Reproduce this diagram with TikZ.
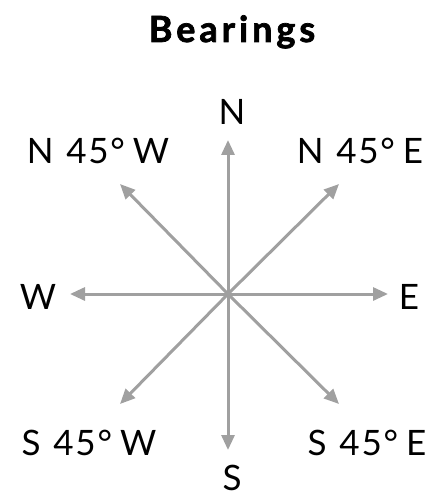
\documentclass[tikz,border=0pt]{standalone}
\usepackage{fontspec}
\setmainfont{Lato}[LetterSpace=5]
\usetikzlibrary{arrows.meta}
\definecolor{arrowgray}{RGB}{160,160,160}
\tikzset{
  px/.style={x=1pt,y=-1pt},
  lbl/.style={font=\fontsize{35}{35}\selectfont, inner sep=0pt, text=black, anchor=base},
  ttl/.style={font=\bfseries\addfontfeature{LetterSpace=11,FakeBold=2}\fontsize{36}{36}\selectfont, inner sep=0pt, text=black, anchor=base},
  bear/.style={draw=arrowgray, line width=3pt, -{Triangle[length=15pt,width=13pt]}}
}
\begin{document}
\begin{tikzpicture}[px]
\useasboundingbox (0,0) rectangle (430,497);
\node[ttl] (title) at (232,42) {Bearings};
\coordinate (c) at (228,294);
\coordinate (tn) at (228,140);
\coordinate (ts) at (228,450);
\coordinate (tw) at (70,294);
\coordinate (te) at (388,294);
\coordinate (tnw) at (120,184);
\coordinate (tne) at (339,184);
\coordinate (tsw) at (120,404);
\coordinate (tse) at (339,404);
\foreach \t in {tn,ts,tw,te,tnw,tne,tsw,tse} \draw[bear] (c) -- (\t);
\node[lbl] (ln) at (232,125) {N};
\node[lbl] (ls) at (232,490) {S};
\node[lbl] (lw) at (38,309) {W};
\node[lbl] (le) at (409,309) {E};
\node[lbl] (lnw) at (98,163) {N\hspace{2pt} 45\textdegree\hspace{8pt}W};
\node[lbl] (lne) at (360,163) {N\hspace{2pt} 45\textdegree\hspace{8pt}E};
\node[lbl] (lsw) at (89,455) {S\hspace{2pt} 45\textdegree\hspace{8pt}W};
\node[lbl] (lse) at (367,455) {S\hspace{2pt} 45\textdegree\hspace{8pt}E};
\end{tikzpicture}
\end{document}
